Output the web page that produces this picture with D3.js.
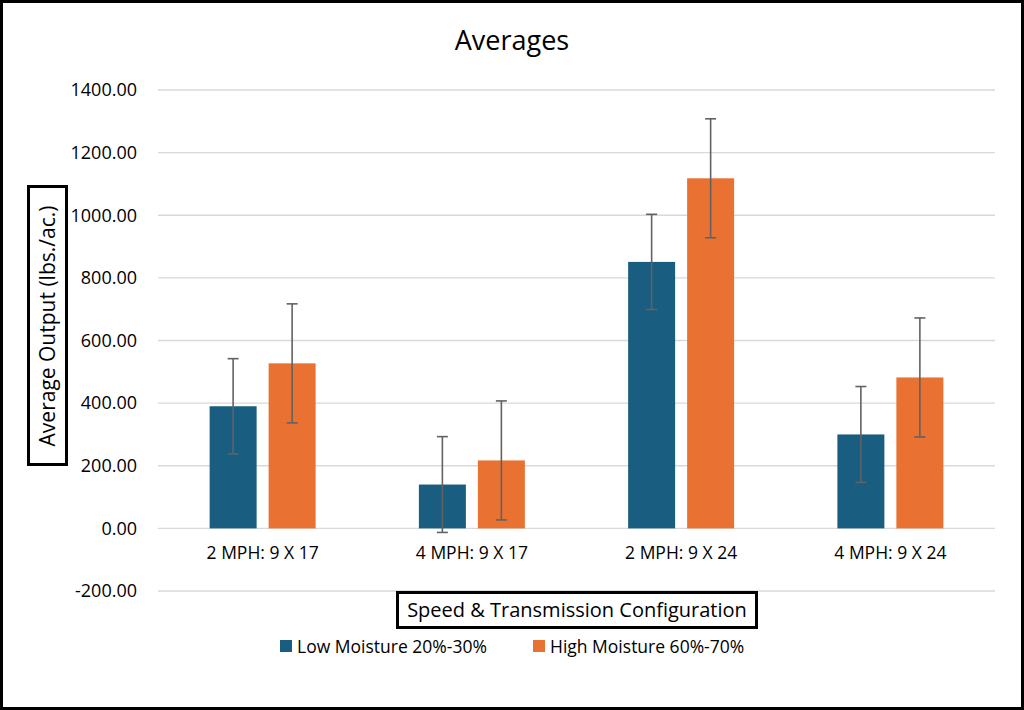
<!DOCTYPE html>
<html>
<head>
<meta charset="utf-8">
<script src="https://d3js.org/d3.v7.min.js"></script>
<style>
  body { margin: 0; background: #fff; }
  text { font-family: "Open Sans", "Noto Sans", sans-serif; fill: #000; }
</style>
</head>
<body>
<div id="chart"></div>
<script>
// data
var categories = ["2 MPH: 9 X 17", "4 MPH: 9 X 17", "2 MPH: 9 X 24", "4 MPH: 9 X 24"];
var seriesNames = ["Low Moisture 20%-30%", "High Moisture 60%-70%"];
var lowMoisture = [390, 140, 851, 300];
var highMoisture = [527, 217, 1118, 482];
var lowError = [152, 153, 152, 153];
var highError = [190, 190, 190, 190];
var yTicks = [-200, 0, 200, 400, 600, 800, 1000, 1200, 1400];
var colors = ["#195e80", "#e97132"];

var W = 1024, H = 710;
var margin = { top: 90, right: 29, bottom: 119, left: 158 };
var width = W - margin.left - margin.right,
    height = H - margin.top - margin.bottom;

var svg = d3.select("#chart").append("svg")
    .attr("width", W).attr("height", H);

// outer frame
svg.append("rect")
    .attr("x", 1.5).attr("y", 1.5)
    .attr("width", W - 3).attr("height", H - 3)
    .attr("fill", "#fff").attr("stroke", "#000").attr("stroke-width", 3);

var g = svg.append("g")
    .attr("transform", "translate(" + margin.left + "," + margin.top + ")");

var y = d3.scaleLinear().domain([-200, 1400]).range([501, 0]);
var x0 = d3.scaleBand().domain(categories).range([0, width]);

// gridlines
g.append("g").selectAll("line")
    .data(yTicks).enter().append("line")
    .attr("x1", 0).attr("x2", width)
    .attr("y1", function (d) { return y(d); })
    .attr("y2", function (d) { return y(d); })
    .attr("stroke", "#d9d9d9").attr("stroke-width", 1.3);

// y axis labels
var yAxis = g.append("g")
    .call(d3.axisLeft(y).tickValues(yTicks).tickSize(0).tickPadding(21)
        .tickFormat(function (d) { return d.toFixed(2); }));
yAxis.select(".domain").remove();
yAxis.selectAll("text").style("font-size", "18px")
    .style("font-family", "'Open Sans', sans-serif").attr("fill", "#000");

// bars
var table = categories.map(function (c, i) {
    return { cat: c, vals: [lowMoisture[i], highMoisture[i]], errs: [lowError[i], highError[i]] };
});
var barW = 47, gap = 12;
var groups = g.selectAll(".grp").data(table).enter().append("g")
    .attr("class", "grp")
    .attr("transform", function (d) { return "translate(" + (x0(d.cat) + x0.bandwidth() / 2) + ",0)"; });

[0, 1].forEach(function (s) {
    var off = s === 0 ? -(gap / 2 + barW) : gap / 2;
    groups.append("rect")
        .attr("x", off)
        .attr("width", barW)
        .attr("y", function (d) { return y(d.vals[s]); })
        .attr("height", function (d) { return y(0) - y(d.vals[s]); })
        .attr("fill", colors[s]);
    var cx = off + barW / 2;
    groups.append("line")
        .attr("x1", cx).attr("x2", cx)
        .attr("y1", function (d) { return y(d.vals[s] + d.errs[s]); })
        .attr("y2", function (d) { return y(d.vals[s] - d.errs[s]); })
        .attr("stroke", "#626262").attr("stroke-width", 1.6);
    [1, -1].forEach(function (sign) {
        groups.append("line")
            .attr("x1", cx - 5.5).attr("x2", cx + 5.5)
            .attr("y1", function (d) { return y(d.vals[s] + sign * d.errs[s]); })
            .attr("y2", function (d) { return y(d.vals[s] + sign * d.errs[s]); })
            .attr("stroke", "#626262").attr("stroke-width", 1.6);
    });
});

// category labels
g.append("g").selectAll("text")
    .data(categories).enter().append("text")
    .attr("x", function (d) { return x0(d) + x0.bandwidth() / 2; })
    .attr("y", y(0) + 31)
    .attr("text-anchor", "middle")
    .style("font-size", "17.5px")
    .text(function (d) { return d; });

// title
svg.append("text")
    .attr("x", 512).attr("y", 50)
    .attr("text-anchor", "middle")
    .style("font-size", "27px")
    .text("Averages");

// y axis title in box
svg.append("rect")
    .attr("x", 28.5).attr("y", 186.5).attr("width", 38).attr("height", 278)
    .attr("fill", "#fff").attr("stroke", "#000").attr("stroke-width", 3);
svg.append("text")
    .attr("transform", "translate(55,326) rotate(-90)")
    .attr("text-anchor", "middle")
    .style("font-size", "21px")
    .text("Average Output (lbs./ac.)");

// x axis title in box
svg.append("rect")
    .attr("x", 397.5).attr("y", 592.5).attr("width", 359).attr("height", 35)
    .attr("fill", "#fff").attr("stroke", "#000").attr("stroke-width", 3);
svg.append("text")
    .attr("x", 577).attr("y", 617)
    .attr("text-anchor", "middle")
    .style("font-size", "20px")
    .text("Speed & Transmission Configuration");

// legend
var legendX = [280, 533];
var legend = svg.selectAll(".legend").data(seriesNames).enter().append("g")
    .attr("class", "legend")
    .attr("transform", function (d, i) { return "translate(" + legendX[i] + ",646)"; });
legend.append("rect")
    .attr("x", 0).attr("y", -6).attr("width", 12).attr("height", 12)
    .attr("fill", function (d, i) { return colors[i]; });
legend.append("text")
    .attr("x", 17).attr("y", 6.5)
    .style("font-size", "17.5px")
    .text(function (d) { return d; });
</script>
</body>
</html>
